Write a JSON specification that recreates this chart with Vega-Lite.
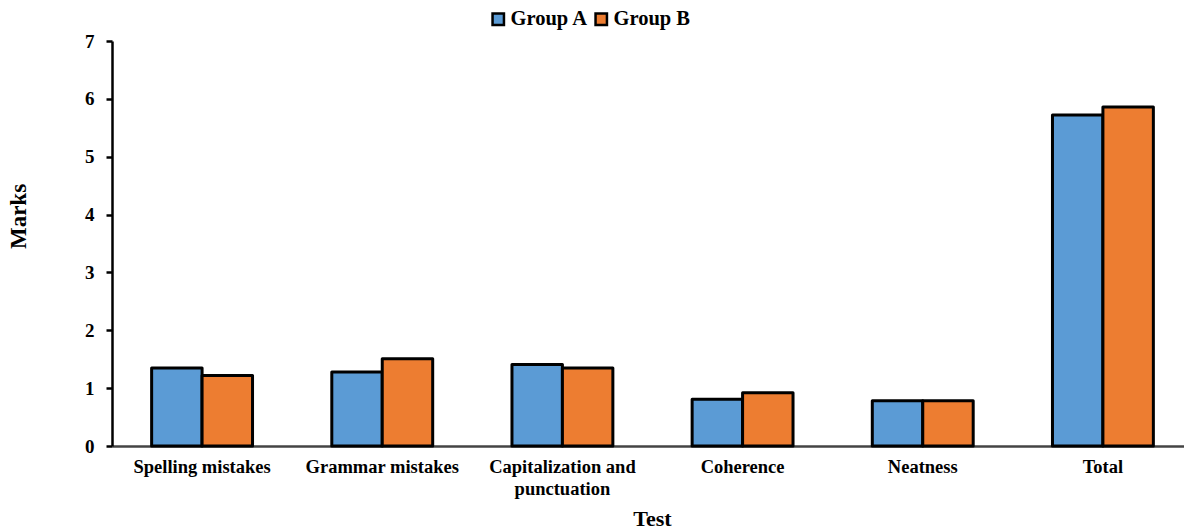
{
  "$schema": "https://vega.github.io/schema/vega-lite/v6.json",
  "autosize": "none",
  "width": 1081,
  "height": 405,
  "padding": {"left": 112, "top": 41, "right": 0, "bottom": 85},
  "background": "white",
  "config": {
    "view": {"stroke": null},
    "font": "Liberation Serif"
  },
  "data": {
    "values": [
      {"test": "Spelling mistakes", "group": "Group A", "marks": 1.35},
      {"test": "Spelling mistakes", "group": "Group B", "marks": 1.22},
      {"test": "Grammar mistakes", "group": "Group A", "marks": 1.28},
      {"test": "Grammar mistakes", "group": "Group B", "marks": 1.51},
      {"test": "Capitalization and punctuation", "group": "Group A", "marks": 1.41},
      {"test": "Capitalization and punctuation", "group": "Group B", "marks": 1.35},
      {"test": "Coherence", "group": "Group A", "marks": 0.81},
      {"test": "Coherence", "group": "Group B", "marks": 0.92},
      {"test": "Neatness", "group": "Group A", "marks": 0.78},
      {"test": "Neatness", "group": "Group B", "marks": 0.78},
      {"test": "Total", "group": "Group A", "marks": 5.72},
      {"test": "Total", "group": "Group B", "marks": 5.86}
    ]
  },
  "mark": {"type": "bar", "stroke": "black", "strokeWidth": 3, "strokeJoin": "round"},
  "encoding": {
    "x": {
      "field": "test",
      "type": "nominal",
      "sort": null,
      "scale": {"paddingInner": 0.44, "paddingOuter": 0.22},
      "axis": {
        "title": "Test",
        "titleFont": "Liberation Serif",
        "titleFontSize": 22,
        "titleFontWeight": "bold",
        "titleColor": "black",
        "titleX": 540,
        "titleY": 62,
        "titleBaseline": "top",
        "labelAngle": 0,
        "labelFont": "Liberation Serif",
        "labelFontSize": 18.5,
        "labelFontWeight": "bold",
        "labelColor": "black",
        "labelPadding": 11,
        "labelLineHeight": 22,
        "labelExpr": "datum.label == 'Capitalization and punctuation' ? ['Capitalization and', 'punctuation'] : datum.label",
        "ticks": false,
        "domainColor": "#444444",
        "domainWidth": 2.5,
        "grid": false
      }
    },
    "xOffset": {"field": "group", "type": "nominal", "scale": {"paddingInner": 0, "paddingOuter": 0}},
    "y": {
      "field": "marks",
      "type": "quantitative",
      "scale": {"domain": [0, 7], "nice": false},
      "axis": {
        "title": "Marks",
        "titleFont": "Liberation Serif",
        "titleFontSize": 23,
        "titleFontWeight": "bold",
        "titleColor": "black",
        "titleX": -94,
        "titleY": 175,
        "titleAlign": "center",
        "titleAngle": -90,
        "titleBaseline": "middle",
        "values": [0, 1, 2, 3, 4, 5, 6, 7],
        "labelFont": "Liberation Serif",
        "labelFontSize": 19,
        "labelFontWeight": "bold",
        "labelColor": "black",
        "labelPadding": 12,
        "tickSize": 6,
        "tickWidth": 2.5,
        "tickColor": "black",
        "domainColor": "black",
        "domainWidth": 2.5,
        "grid": false
      }
    },
    "color": {
      "field": "group",
      "type": "nominal",
      "scale": {"domain": ["Group A", "Group B"], "range": ["#5B9BD5", "#ED7D31"]},
      "legend": {
        "title": null,
        "orient": "none",
        "direction": "horizontal",
        "legendX": 376,
        "legendY": -32,
        "symbolType": "square",
        "symbolSize": 130,
        "symbolStrokeColor": "black",
        "symbolStrokeWidth": 2.5,
        "labelFont": "Liberation Serif",
        "labelFontSize": 20.5,
        "labelFontWeight": "bold",
        "labelColor": "black",
        "labelOffset": 2,
        "columnPadding": 1
      }
    }
  }
}
